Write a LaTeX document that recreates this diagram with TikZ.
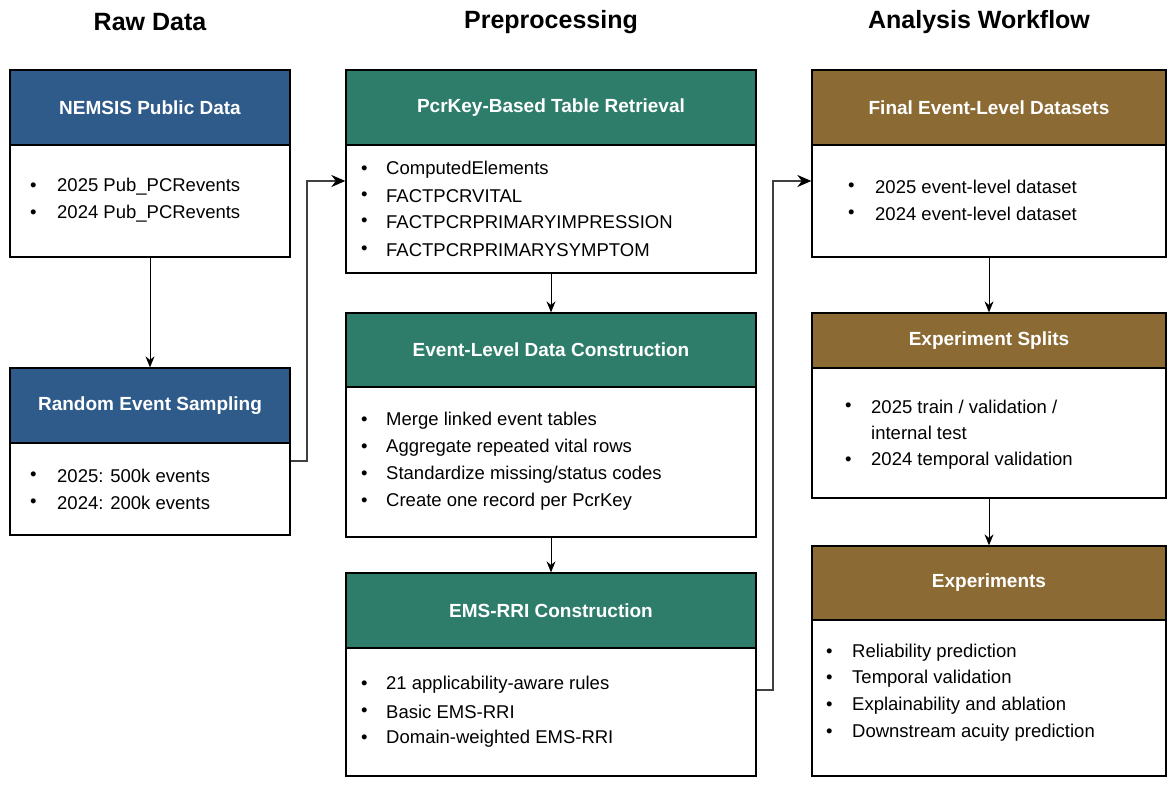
\documentclass[tikz,border=0pt]{standalone}
\usepackage{fontspec}
\setmainfont{Liberation Sans}
\usetikzlibrary{arrows.meta}
\definecolor{cblue}{HTML}{2F5B8A}
\definecolor{cgreen}{HTML}{2E7D6B}
\definecolor{cbrown}{HTML}{8B6B33}
\begin{document}
\begin{tikzpicture}[x=1pt,y=-1pt,
  box/.style={draw=black,line width=1.3pt,inner sep=0pt,rectangle},
  hdr/.style={box,text=white,font=\fontsize{19}{22}\selectfont\bfseries},
  ttl/.style={font=\fontsize{25}{28}\selectfont\bfseries},
  itm/.style={anchor=west,inner sep=0pt,font=\fontsize{18.5}{22}\selectfont},
  arr/.style={line width=1pt,-{Stealth[length=11pt,width=9pt]}},
  elb/.style={line width=2.2pt,draw=black!75,-{Stealth[length=14pt,width=12pt,color=black]}}]
\useasboundingbox (0,0) rectangle (1175,786);
\newcommand\bul[4]{\node[itm] at (#1,#3) {•}; \node[itm] at (#2,#3) {#4};}
% titles
\node[ttl] (t1) at (150,22) {Raw Data};
\node[ttl] (t2) at (551,22) {Preprocessing};
\node[ttl] (t3) at (979,22) {Analysis Workflow};
% column 1
\node[hdr,fill=cblue,minimum width=280,minimum height=75] (h1) at (150,107.5) {NEMSIS Public Data};
\node[box,minimum width=280,minimum height=112] (b1) at (150,201) {};
\bul{30}{57}{187}{2025 Pub\_PCRevents}
\bul{30}{57}{214}{2024 Pub\_PCRevents}
\node[hdr,fill=cblue,minimum width=280,minimum height=75] (h2) at (150,405.5) {Random Event Sampling};
\node[box,minimum width=280,minimum height=92] (b2) at (150,489) {};
\bul{30}{57}{476}{2025: 500k events}
\bul{30}{57}{503}{2024: 200k events}
% column 2
\node[hdr,fill=cgreen,minimum width=410,minimum height=75] (h3) at (551,107.5) {PcrKey-Based Table Retrieval};
\node[box,minimum width=410,minimum height=128] (b3) at (551,209) {};
\bul{361}{386}{170}{ComputedElements}
\bul{361}{386}{196}{FACTPCRVITAL}
\bul{361}{386}{222}{FACTPCRPRIMARYIMPRESSION}
\bul{361}{386}{250}{FACTPCRPRIMARYSYMPTOM}
\node[hdr,fill=cgreen,minimum width=410,minimum height=74] (h4) at (551,350) {Event-Level Data Construction};
\node[box,minimum width=410,minimum height=150] (b4) at (551,462) {};
\bul{361}{386}{421}{Merge linked event tables}
\bul{361}{386}{448}{Aggregate repeated vital rows}
\bul{361}{386}{475}{Standardize missing/status codes}
\bul{361}{386}{502}{Create one record per PcrKey}
\node[hdr,fill=cgreen,minimum width=410,minimum height=75] (h5) at (551,610.5) {EMS-RRI Construction};
\node[box,minimum width=410,minimum height=128] (b5) at (551,712) {};
\bul{361}{386}{685}{21 applicability-aware rules}
\bul{361}{386}{712}{Basic EMS-RRI}
\bul{361}{386}{739}{Domain-weighted EMS-RRI}
% column 3
\node[hdr,fill=cbrown,minimum width=354,minimum height=75] (h6) at (989,107.5) {Final Event-Level Datasets};
\node[box,minimum width=354,minimum height=112] (b6) at (989,201) {};
\bul{848}{875}{187}{2025 event-level dataset}
\bul{848}{875}{214}{2024 event-level dataset}
\node[hdr,fill=cbrown,minimum width=354,minimum height=55] (h7) at (989,340.5) {Experiment Splits};
\node[box,minimum width=354,minimum height=130] (b7) at (989,433) {};
\bul{845}{871}{407}{2025 train / validation /}
\node[itm] (s2) at (871,433) {internal test};
\bul{845}{871}{461}{2024 temporal validation}
\node[hdr,fill=cbrown,minimum width=354,minimum height=74] (h8) at (989,583) {Experiments};
\node[box,minimum width=354,minimum height=156] (b8) at (989,698) {};
\bul{826}{852}{653}{Reliability prediction}
\bul{826}{852}{679}{Temporal validation}
\bul{826}{852}{706}{Explainability and ablation}
\bul{826}{852}{733}{Downstream acuity prediction}
% arrows
\draw[arr] (b1.south) -- (h2.north);
\draw[arr] (b3.south) -- (h4.north);
\draw[arr] (b4.south) -- (h5.north);
\draw[arr] (b6.south) -- (h7.north);
\draw[arr] (b7.south) -- (h8.north);
\coordinate (e1) at (b3.west |- 0,181);
\coordinate (e2) at (b6.west |- 0,181);
\draw[elb] (b2.east |- 0,461) -| (307,181) -- (e1);
\draw[elb] (b5.east |- 0,690) -| (773,181) -- (e2);
\end{tikzpicture}
\end{document}
